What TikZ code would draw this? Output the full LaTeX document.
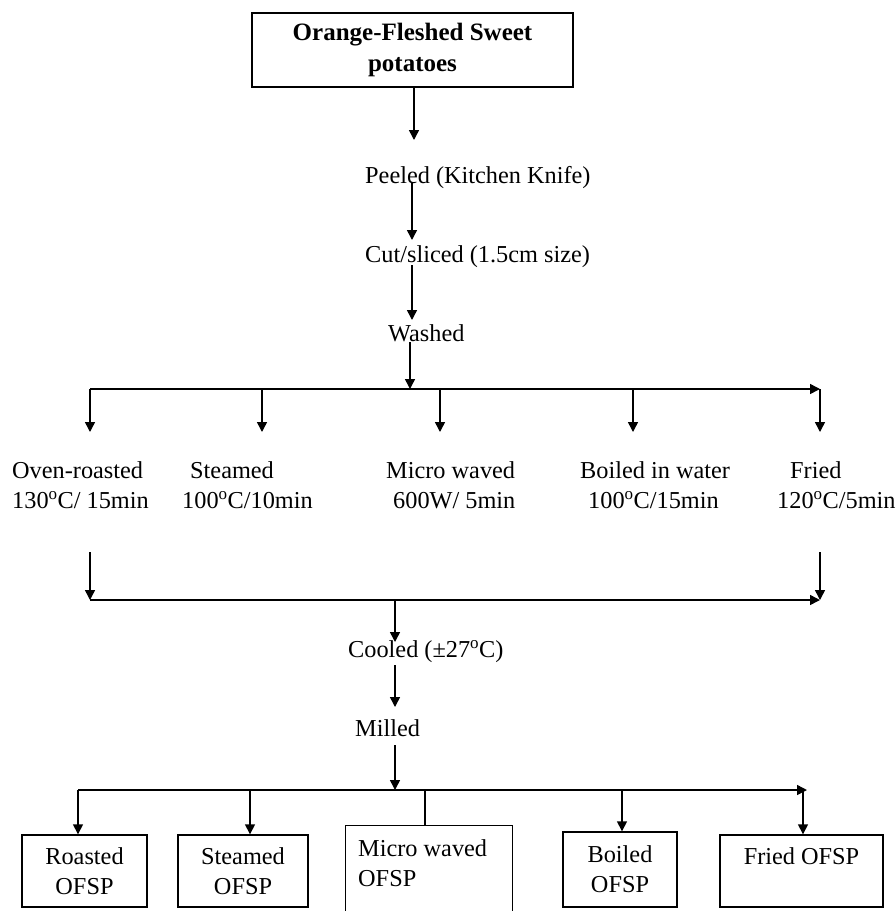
\documentclass[tikz,border=0pt]{standalone}
\usepackage{fontspec}
\setmainfont{Liberation Serif}
\usetikzlibrary{arrows.meta}
\begin{document}
\begin{tikzpicture}[x=1pt,y=-1pt,
  txt/.style={font=\fontsize{24.3}{30}\selectfont, inner sep=0pt, align=left, anchor=west},
  arr/.style={-{Triangle[width=10pt,length=10pt]}, line width=1.5pt},
  ln/.style={line width=1.5pt},
  boxn/.style={draw, line width=1.4pt, inner sep=0pt, align=center, font=\fontsize{24.3}{30}\selectfont}]
\useasboundingbox (0,0) rectangle (896,911);
\fill[white] (0,0) rectangle (896,911);

% top box
\node[boxn, font=\fontsize{25}{31}\selectfont\bfseries, minimum width=321pt, minimum height=74pt] (top) at (412.5,50) {Orange-Fleshed Sweet\\potatoes};

% process steps
\node[txt] (peeled) at (365,178) {Peeled (Kitchen Knife)};
\node[txt] (cut) at (365,257) {Cut/sliced (1.5cm size)};
\node[txt] (washed) at (388,333) {Washed};

\coordinate (a1s) at (414,87);  \coordinate (a1e) at (414,140);
\coordinate (a2s) at (412,183); \coordinate (a2e) at (412,240);
\coordinate (a3s) at (412,265); \coordinate (a3e) at (412,320);
\coordinate (a4s) at (410,342); \coordinate (a4e) at (410,389);
\draw[ln] (top.south -| a1s) -- (a1s);
\draw[arr] (a1s) -- (a1e);
\draw[arr] (a2s) -- (a2e);
\draw[arr] (a3s) -- (a3e);
\draw[arr] (a4s) -- (a4e);

% first distribution line
\coordinate (h1a) at (90,389);
\coordinate (h1b) at (262,389);
\coordinate (h1c) at (440,389);
\coordinate (h1d) at (633,389);
\coordinate (h1e) at (820,389);
\draw[arr] (h1a) -- (h1e);
\foreach \p in {h1a,h1b,h1c,h1d,h1e}{
  \draw[arr] (\p) -- ++(0,43);
}

% methods
\node[txt] (oven) at (12,485) {Oven-roasted\\130\textsuperscript{o}C/ 15min};
\node[txt] (steam) at (182,485) {\hspace{8pt}Steamed\\100\textsuperscript{o}C/10min};
\node[txt] (micro) at (386,485) {Micro waved\\\hspace{7pt}600W/ 5min};
\node[txt] (boil) at (580,485) {Boiled in water\\\hspace{8pt}100\textsuperscript{o}C/15min};
\node[txt] (fried) at (777,485) {\hspace{13pt}Fried\\120\textsuperscript{o}C/5min};

% collection line
\coordinate (c1s) at (90,552);  \coordinate (c1e) at (90,600);
\coordinate (c2s) at (820,552); \coordinate (c2e) at (820,600);
\draw[arr] (c1s) -- (c1e);
\draw[arr] (c2s) -- (c2e);
\draw[arr] (c1e) -- (c2e);

\node[txt] (cooled) at (348,652) {Cooled (\textpm27\textsuperscript{o}C)};
\node[txt] (milled) at (355,728) {Milled};

\coordinate (d1s) at (395,600); \coordinate (d1e) at (395,642);
\coordinate (d2s) at (395,665); \coordinate (d2e) at (395,707);
\coordinate (d3s) at (395,745); \coordinate (d3e) at (395,790);
\draw[arr] (d1s) -- (d1e);
\draw[arr] (d2s) -- (d2e);
\draw[arr] (d3s) -- (d3e);

% products
\node[boxn, minimum width=125pt, minimum height=72pt] (roasted) at (84.5,871) {Roasted\\OFSP};
\node[boxn, minimum width=130pt, minimum height=72pt] (steamed) at (243,871) {Steamed\\OFSP};
\node[draw, line width=1.4pt, inner sep=0pt, minimum width=167pt, minimum height=110pt, anchor=north west] (microbox) at (345,825) {};
\node[txt] (microtxt) at (358,863) {Micro waved\\OFSP};
\node[boxn, minimum width=114pt, minimum height=75pt] (boiled) at (620,869.5) {Boiled\\OFSP};
\node[boxn, minimum width=163pt, minimum height=72pt] (friedp) at (801.5,871) {Fried OFSP\\\mbox{}};

\coordinate (h3a) at (78,790);
\coordinate (h3b) at (250,790);
\coordinate (h3c) at (425,790);
\coordinate (h3d) at (622,790);
\coordinate (h3e) at (807,790);
\coordinate (h3f) at (803,790);
\draw[arr] (h3a) -- (h3e);
\draw[arr] (h3a) -- (h3a |- roasted.north);
\draw[arr] (h3b) -- (h3b |- steamed.north);
\draw[ln] (h3c) -- (h3c |- microbox.north);
\draw[arr] (h3d) -- (h3d |- boiled.north);
\draw[arr] (h3f) -- (h3f |- friedp.north);
\end{tikzpicture}
\end{document}
